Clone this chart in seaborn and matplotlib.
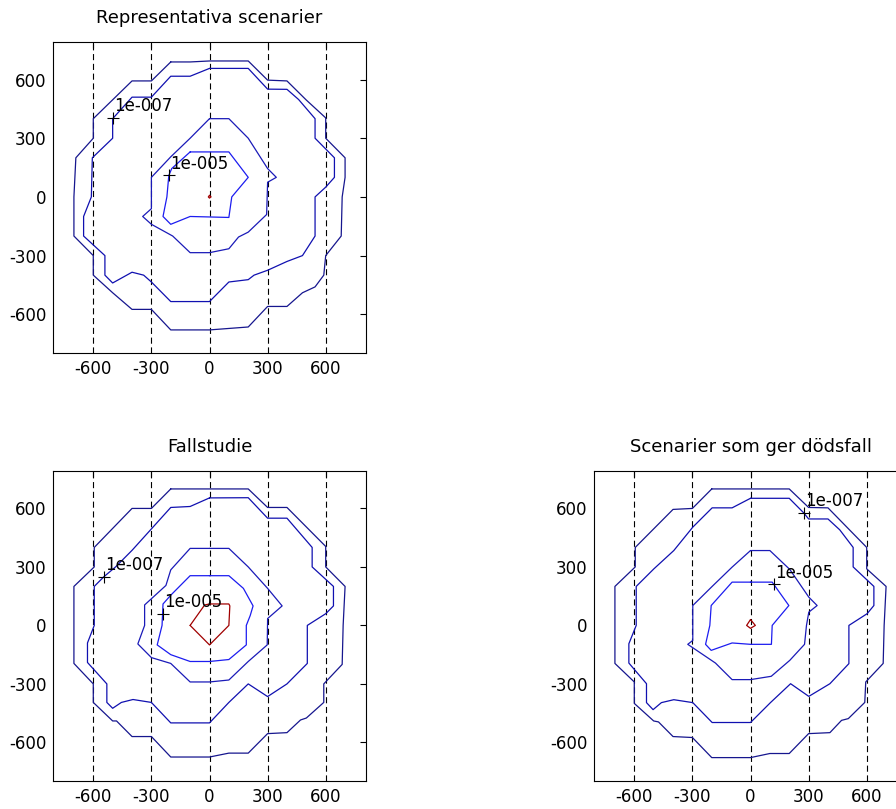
import pandas as pd
import seaborn as sns
import matplotlib.pyplot as plt

# contour vertices (x, y), each list is one closed line
rep_c1 = [(-200, 690), (-100, 690), (0, 695), (200, 695), (300, 597), (400, 593), (500, 495),
          (600, 404), (600, 300), (700, 200), (700, 100), (685, 0), (680, -200), (600, -300),
          (590, -400), (545, -460), (480, -490), (400, -560), (300, -560), (200, -665), (0, -680),
          (-200, -680), (-300, -575), (-400, -575), (-500, -490), (-600, -400), (-600, -300),
          (-700, -200), (-700, 0), (-690, 200), (-600, 300), (-600, 400), (-400, 593), (-300, 593)]
rep_c2 = [(0, 657), (200, 657), (300, 551), (400, 550), (460, 498), (545, 400), (545, 300),
          (645, 200), (645, 100), (600, 50), (545, 0), (545, -200), (480, -300), (400, -330),
          (300, -375), (230, -400), (200, -423), (100, -435), (0, -535), (-200, -535), (-300, -435),
          (-340, -400), (-400, -385), (-500, -440), (-540, -400), (-540, -300), (-650, -200),
          (-650, -100), (-610, 0), (-605, 200), (-500, 300), (-500, 400), (-400, 510), (-300, 510),
          (-200, 617), (-100, 617)]
rep_c3 = [(0, 400), (100, 400), (200, 300), (300, 145), (345, 100), (300, 75), (295, -90),
          (200, -180), (150, -205), (100, -265), (0, -285), (-100, -285), (-190, -200),
          (-300, -140), (-345, -100), (-300, -60), (-300, 100), (-200, 205), (-100, 300)]
rep_c4 = [(-100, 230), (100, 230), (200, 100), (115, 0), (100, -105), (-100, -100), (-200, -140),
          (-240, -100), (-220, 0), (-210, 110), (-195, 145)]
rep_c5 = [(0, 8), (-6, 0), (0, -6), (8, 0)]
rep_labels = [(-500, 405, "1e-007"), (-210, 110, "1e-005")]

fall_c1 = [(-200, 700), (200, 700), (300, 605), (400, 605), (600, 405), (600, 300), (700, 200),
           (690, 0), (685, -200), (590, -300), (590, -395), (500, -475), (470, -485), (400, -550),
           (300, -555), (200, -655), (100, -655), (0, -675), (-200, -675), (-300, -570),
           (-400, -570), (-480, -490), (-500, -490), (-600, -395), (-600, -300), (-700, -195),
           (-700, 200), (-595, 300), (-595, 400), (-400, 600), (-300, 600)]
fall_c2 = [(0, 654), (200, 655), (300, 550), (400, 550), (530, 400), (530, 300), (640, 200),
           (640, 100), (600, 60), (505, 0), (505, -195), (400, -300), (300, -365), (200, -300),
           (100, -395), (0, -500), (-200, -500), (-300, -395), (-395, -380), (-455, -395),
           (-500, -425), (-530, -395), (-530, -300), (-630, -190), (-630, -90), (-595, 0),
           (-595, 200), (-545, 250), (-485, 300), (-400, 385), (-300, 495), (-200, 605), (-100, 610)]
fall_c3 = [(0, 395), (100, 395), (200, 300), (300, 190), (375, 100), (300, 35), (298, -100),
           (200, -185), (100, -280), (0, -290), (-100, -290), (-200, -195), (-300, -165),
           (-370, -95), (-335, 0), (-335, 105), (-225, 205), (-200, 285), (-100, 395)]
fall_c4 = [(0, 255), (100, 255), (175, 190), (225, 100), (210, 50), (190, 0), (190, -100),
           (100, -175), (0, -185), (-100, -185), (-200, -150), (-270, -100), (-245, 0),
           (-240, 110), (-200, 155), (-100, 255)]
fall_c5 = [(-100, 0), (-25, 105), (0, 110), (100, 110), (105, 100), (100, 0), (0, -100)]
fall_labels = [(-545, 250, "1e-007"), (-240, 58, "1e-005")]

dod_c1 = [(-200, 700), (200, 700), (300, 605), (400, 603), (600, 400), (600, 290), (700, 200),
          (690, 0), (685, -195), (595, -290), (590, -395), (505, -478), (470, -487), (410, -550),
          (300, -555), (200, -657), (100, -657), (0, -678), (-200, -678), (-300, -575),
          (-400, -570), (-475, -495), (-500, -490), (-600, -400), (-600, -290), (-700, -195),
          (-700, 200), (-595, 300), (-595, 400), (-400, 595), (-300, 600)]
dod_c2 = [(0, 652), (200, 652), (275, 577), (300, 546), (400, 546), (461, 490), (530, 400),
          (530, 300), (637, 200), (637, 102), (602, 60), (508, 0), (508, -196), (410, -299),
          (301, -364), (207, -299), (103, -396), (0, -498), (-198, -498), (-298, -396),
          (-396, -381), (-460, -396), (-503, -432), (-537, -396), (-537, -299), (-628, -193),
          (-628, -94), (-590, 0), (-590, 200), (-499, 290), (-396, 384), (-298, 504),
          (-198, 603), (-95, 603)]
dod_c3 = [(0, 384), (100, 384), (203, 287), (301, 145), (344, 102), (301, 68), (289, 0),
          (279, -97), (203, -179), (107, -261), (0, -278), (-95, -278), (-181, -193),
          (-324, -97), (-298, -77), (-298, 102), (-198, 200), (-95, 299)]
dod_c4 = [(0, 222), (112, 222), (198, 102), (112, 0), (108, -97), (0, -97), (-95, -90),
          (-203, -128), (-232, -97), (-210, 0), (-203, 102), (-95, 222)]
dod_c5 = [(0, 30), (-20, 0), (0, -15), (25, 0)]
dod_labels = [(120, 210, "1e-005"), (275, 577, "1e-007")]

titles = ["Representativa scenarier", "Fallstudie", "Scenarier som ger dödsfall"]
ticks = [-600, -300, 0, 300, 600]

# outer -> inner contour levels
level_colors = ["#16168e", "#1010b0", "#1a1ab8", "#1c1cf0", "#a00000"]

sns.set_style("white")
plt.rcParams["font.family"] = ["DejaVu Sans"]
plt.rcParams["axes.unicode_minus"] = False

W, H = 896, 809
fig = plt.figure(figsize=(W / 100, H / 100), dpi=100)

# axes boxes in pixels: left, top, width, height
boxes = [(53, 42, 313, 311), (53, 471, 313, 310), (594, 471, 313, 310)]
panels = [
    (titles[0], [rep_c1, rep_c2, rep_c3, rep_c4, rep_c5], rep_labels),
    (titles[1], [fall_c1, fall_c2, fall_c3, fall_c4, fall_c5], fall_labels),
    (titles[2], [dod_c1, dod_c2, dod_c3, dod_c4, dod_c5], dod_labels),
]

for (l, t, w, h), (title, lines, labels) in zip(boxes, panels):
    ax = fig.add_axes([l / W, (H - t - h) / H, w / W, h / H])
    ax.set_xlim(-808, 808)
    ax.set_ylim(-798, 792)

    for tx in ticks:
        ax.axvline(tx, color="black", lw=0.8, ls=(0, (5.5, 3.3)), zorder=1)

    for pts, col in zip(lines, level_colors):
        closed = pts + pts[:1]
        df = pd.DataFrame(closed, columns=["x", "y"])
        sns.lineplot(data=df, x="x", y="y", sort=False, estimator=None,
                     color=col, lw=0.9, ax=ax, zorder=2)

    for lx, ly, txt in labels:
        ax.plot(lx, ly, marker="+", color="black", ms=9, mew=0.8, zorder=3)
        ax.annotate(txt, (lx, ly), xytext=(0.7, 4.8), textcoords="offset points",
                    ha="left", va="baseline", fontsize=12, color="black", zorder=4)

    ax.set_xticks(ticks)
    ax.set_yticks(ticks)
    ax.set_xlabel("")
    ax.set_ylabel("")
    ax.tick_params(direction="in", length=4, width=0.8, top=True, right=True,
                   labelsize=12, colors="black")
    ax.tick_params(axis="x", pad=5)
    ax.tick_params(axis="y", pad=4.5)
    for sp in ax.spines.values():
        sp.set_color("black")
        sp.set_linewidth(0.8)
    ax.set_title(title, fontsize=13, pad=13.5, color="black")

fig.savefig("out.png", dpi=100)
